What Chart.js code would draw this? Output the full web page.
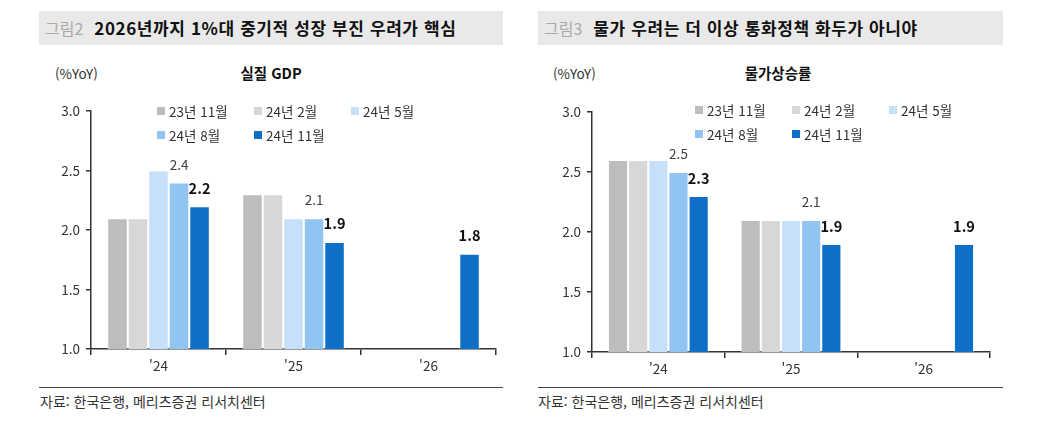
<!DOCTYPE html>
<html lang="ko">
<head>
<meta charset="utf-8">
<script src="https://cdn.jsdelivr.net/npm/chart.js@4.4.1/dist/chart.umd.min.js"></script>
<style>
  body { margin: 0; width: 1037px; height: 427px; background: #fff; position: relative;
         font-family: 'Noto Sans CJK KR', 'Noto Sans', sans-serif; color: #333; overflow: hidden; }
  .abs { position: absolute; }
  .titlebar { background: #e9e9e9; height: 34px; line-height: 34px; font-size: 17px; font-weight: 700; color: #111; letter-spacing: 0.6px; white-space: nowrap; }
  .titlebar .fig { color: #a9a9a9; font-weight: 400; margin: 0 11px 0 6px; letter-spacing: 0; font-size: 16px; }
  .unit { font-size: 13.5px; color: #333; }
  .ctitle { font-size: 14.5px; font-weight: 700; color: #111; transform: translateX(-50%); white-space: nowrap; }
  .legend { display: grid; grid-template-columns: repeat(3, 97px); grid-auto-rows: 24px; font-size: 13.5px; color: #333; }
  .legend span.item { display: flex; align-items: center; white-space: nowrap; }
  .legend i { display: inline-block; width: 8px; height: 8px; margin-right: 4px; }
  .rule { height: 1px; background: #444; }
  .source { font-size: 14px; color: #333; }
  .chartbox { position: absolute; }
</style>
</head>
<body>

<!-- left panel -->
<div class="abs titlebar" style="left:39px; top:11px; width:464px;"><span class="fig">그림2</span>2026년까지 1%대 중기적 성장 부진 우려가 핵심</div>
<div class="abs unit" style="left:55px; top:63px;">(%YoY)</div>
<div class="abs ctitle" style="left:271px; top:62px;">실질 GDP</div>
<div class="chartbox" style="left:30px; top:97px; width:467px; height:282px;"><canvas id="chart-gdp"></canvas></div>
<div class="abs legend" id="legend-gdp" style="left:157px; top:99px;"></div>
<div class="abs rule" style="left:39px; top:387px; width:464px;"></div>
<div class="abs source" style="left:40px; top:391px;">자료: 한국은행, 메리츠증권 리서치센터</div>

<!-- right panel -->
<div class="abs titlebar" style="left:538px; top:11px; width:465px;"><span class="fig">그림3</span>물가 우려는 더 이상 통화정책 화두가 아니야</div>
<div class="abs unit" style="left:553px; top:63px;">(%YoY)</div>
<div class="abs ctitle" style="left:778px; top:62px;">물가상승률</div>
<div class="chartbox" style="left:531px; top:98px; width:460px; height:284px;"><canvas id="chart-cpi"></canvas></div>
<div class="abs legend" id="legend-cpi" style="left:695px; top:98px;"></div>
<div class="abs rule" style="left:538px; top:387px; width:465px;"></div>
<div class="abs source" style="left:538px; top:391px;">자료: 한국은행, 메리츠증권 리서치센터</div>

<script>
/* ── data ── */
const categories  = ["'24", "'25", "'26"];
const seriesNames = ['23년 11월', '24년 2월', '24년 5월', '24년 8월', '24년 11월'];
const seriesColors = ['#bdbdbd', '#d7d7d7', '#c5e0f8', '#92c4f2', '#0e6fc6'];

// 실질 GDP 전망 (발표 시점별)
const gdpNov23 = [2.1, 2.3, null];
const gdpFeb24 = [2.1, 2.3, null];
const gdpMay24 = [2.5, 2.1, null];
const gdpAug24 = [2.4, 2.1, null];
const gdpNov24 = [2.2, 1.9, 1.8];

// 물가상승률 전망
const cpiNov23 = [2.6, 2.1, null];
const cpiFeb24 = [2.6, 2.1, null];
const cpiMay24 = [2.6, 2.1, null];
const cpiAug24 = [2.5, 2.1, null];
const cpiNov24 = [2.3, 1.9, 1.9];

const yMin = 1.0, yMax = 3.0, yStep = 0.5;

// which series get a value label: 8월 plain, 11월 bold
const labelStyle = [null, null, null, 'plain', 'bold'];

/* ── value labels above bars ── */
const barLabels = {
  id: 'barLabels',
  afterDatasetsDraw(chart) {
    const ctx = chart.ctx;
    chart.data.datasets.forEach((ds, i) => {
      const style = labelStyle[i];
      if (!style) return;
      const meta = chart.getDatasetMeta(i);
      ctx.save();
      ctx.textAlign = 'center';
      ctx.textBaseline = 'middle';
      ctx.font = style === 'bold'
        ? "700 14.5px 'Noto Sans CJK KR', sans-serif"
        : "400 13.5px 'Noto Sans CJK KR', sans-serif";
      ctx.fillStyle = style === 'bold' ? '#111' : '#404040';
      meta.data.forEach((bar, j) => {
        const v = ds.data[j];
        if (v == null) return;
        ctx.fillText(v.toFixed(1), bar.x, bar.y - 18);
      });
      ctx.restore();
    });
  },
};

function buildLegend(id) {
  const el = document.getElementById(id);
  seriesNames.forEach((name, i) => {
    const s = document.createElement('span');
    s.className = 'item';
    s.innerHTML = `<i style="background:${seriesColors[i]}"></i>${name}`;
    el.appendChild(s);
  });
}

function buildChart(canvasId, series) {
  const axisColor = '#333';
  const tickFont = { family: "'Noto Sans CJK KR', sans-serif", size: 13.5 };
  return new Chart(document.getElementById(canvasId), {
    type: 'bar',
    data: {
      labels: categories,
      datasets: series.map((data, i) => ({
        label: seriesNames[i],
        data,
        backgroundColor: seriesColors[i],
        borderColor: 'rgba(255,255,255,0.5)',
        borderWidth: 1,
        categoryPercentage: 0.76,
        barPercentage: 1.0,
      })),
    },
    options: {
      responsive: true,
      maintainAspectRatio: false,
      animation: false,
      layout: { padding: { top: 0, right: 1 } },
      plugins: { legend: { display: false }, tooltip: { enabled: false } },
      scales: {
        x: {
          grid: { offset: true, drawOnChartArea: false, drawTicks: true, tickLength: 6, color: axisColor, lineWidth: 1.5 },
          border: { color: axisColor, width: 1.5 },
          ticks: { color: axisColor, font: tickFont, padding: 3 },
          afterFit: s => { s.height = 30; },
        },
        y: {
          min: yMin,
          max: yMax,
          grid: { drawOnChartArea: false, drawTicks: true, tickLength: 5, color: axisColor, lineWidth: 1.5 },
          border: { color: axisColor, width: 1.5 },
          ticks: { stepSize: yStep, color: axisColor, font: tickFont, padding: 6, callback: v => Number(v).toFixed(1) },
          afterFit: s => { s.width = 61; },
        },
      },
    },
    plugins: [barLabels],
  });
}

buildLegend('legend-gdp');
buildLegend('legend-cpi');
buildChart('chart-gdp', [gdpNov23, gdpFeb24, gdpMay24, gdpAug24, gdpNov24]);
buildChart('chart-cpi', [cpiNov23, cpiFeb24, cpiMay24, cpiAug24, cpiNov24]);
</script>
</body>
</html>
